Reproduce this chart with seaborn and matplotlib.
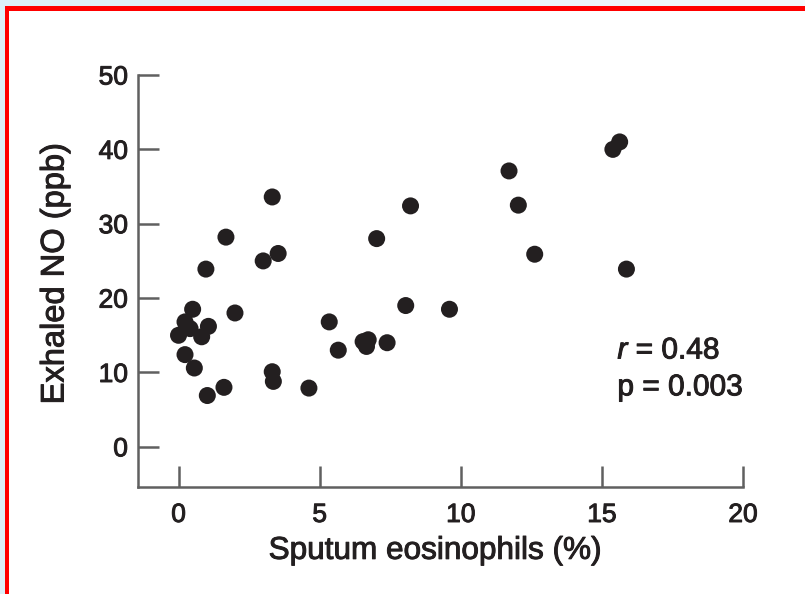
import numpy as np
import pandas as pd
import matplotlib
matplotlib.use("Agg")
import matplotlib.pyplot as plt
import matplotlib.patheffects as pe
from matplotlib.patches import Rectangle
import seaborn as sns

# Sputum eosinophils (%) vs exhaled NO (ppb)
eosinophils = [0.0, 0.23, 0.5, 0.41, 0.23, 0.56, 0.82, 1.06, 1.02, 1.61, 2.0,
               3.32, 3.36, 4.62, 5.34, 5.66, 6.54, 6.72, 6.66, 7.39, 8.05, 9.6,
               0.97, 1.68, 3.32, 3.0, 3.53, 7.02, 8.22,
               11.71, 12.04, 12.62, 15.39, 15.63, 15.87]
exhaled_no = [15.0, 16.8, 18.5, 15.9, 12.4, 10.6, 14.8, 16.2, 6.9, 8.0, 18.0,
              10.1, 8.8, 7.9, 16.8, 13.0, 14.15, 14.4, 13.5, 14.0, 19.0, 18.5,
              23.9, 28.2, 33.6, 25.0, 26.0, 28.0, 32.4,
              37.1, 32.5, 25.9, 40.0, 41.0, 23.9]
x_ticks = [0, 5, 10, 15, 20]
y_ticks = [0, 10, 20, 30, 40, 50]
stats_lines = ["$\\it{r}$ = 0.48", "p = 0.003"]

df = pd.DataFrame({"eos": eosinophils, "no": exhaled_no})

sns.set_theme(style="white")
plt.rcParams["font.family"] = ["Liberation Sans", "DejaVu Sans"]
plt.rcParams["mathtext.fontset"] = "custom"
plt.rcParams["mathtext.it"] = "Liberation Sans:italic"
plt.rcParams["mathtext.rm"] = "Liberation Sans"

ink = "#231f20"
heavy = [pe.withStroke(linewidth=0.7, foreground=ink)]

W, H = 805, 594
fig = plt.figure(figsize=(W / 100, H / 100), dpi=100)

# page background with framed panel
bg = fig.add_axes([0, 0, 1, 1], zorder=0)
grad = np.linspace(0, 1, 256)[None, :]
bg.imshow(grad, extent=[0, W, H, 0], aspect="auto",
          cmap=matplotlib.colors.LinearSegmentedColormap.from_list(
              "pg", ["#dcf0f8", "#f3f9fc"]))
bg.add_patch(Rectangle((5, 6), W, H, facecolor="#ff0000", edgecolor="none"))
bg.add_patch(Rectangle((8.5, 11), W, H, facecolor="white", edgecolor="none"))
bg.set_xlim(0, W)
bg.set_ylim(H, 0)
bg.axis("off")

ax = fig.add_axes([137.6 / W, 1 - 487 / H, (743 - 137.6) / W, (487 - 75) / H],
                  zorder=1)
ax.patch.set_alpha(0)

sns.scatterplot(data=df, x="eos", y="no", ax=ax, s=150, color=ink,
                edgecolor="none", linewidth=0, legend=False)

ax.set_xlim(-1.45, 20.0)
ax.set_ylim(-5.4, 50)
ax.set_xticks(x_ticks)
ax.set_yticks(y_ticks)
ax.set_xticklabels([str(v) for v in x_ticks])
ax.set_yticklabels([str(v) for v in y_ticks])

axis_color = "#606060"
for side in ["top", "right"]:
    ax.spines[side].set_visible(False)
for side in ["left", "bottom"]:
    ax.spines[side].set_color(axis_color)
    ax.spines[side].set_linewidth(1.8)

ax.tick_params(axis="both", direction="in", length=15, width=1.8,
               color=axis_color, labelsize=19, labelcolor=ink,
               bottom=True, left=True, top=False, right=False)
ax.tick_params(axis="x", pad=11.5)
ax.tick_params(axis="y", pad=7)
for lbl in ax.get_xticklabels() + ax.get_yticklabels():
    lbl.set_path_effects(heavy)

ax.set_xlabel("Sputum eosinophils (%)", fontsize=22.7, color=ink,
              va="center", path_effects=heavy)
ax.xaxis.set_label_coords(0.491, -0.155)
ax.set_ylabel("Exhaled NO (ppb)", fontsize=23.5, color=ink,
              va="center", ha="center", path_effects=heavy)
ax.yaxis.set_label_coords(-0.1364, 0.518)

ax.text(15.55, 12.95, stats_lines[0], fontsize=21.5, color=ink,
        va="center", ha="left", path_effects=heavy)
ax.text(15.55, 8.0, stats_lines[1], fontsize=21.5, color=ink,
        va="center", ha="left", path_effects=heavy)

fig.savefig("out.png", dpi=100)
